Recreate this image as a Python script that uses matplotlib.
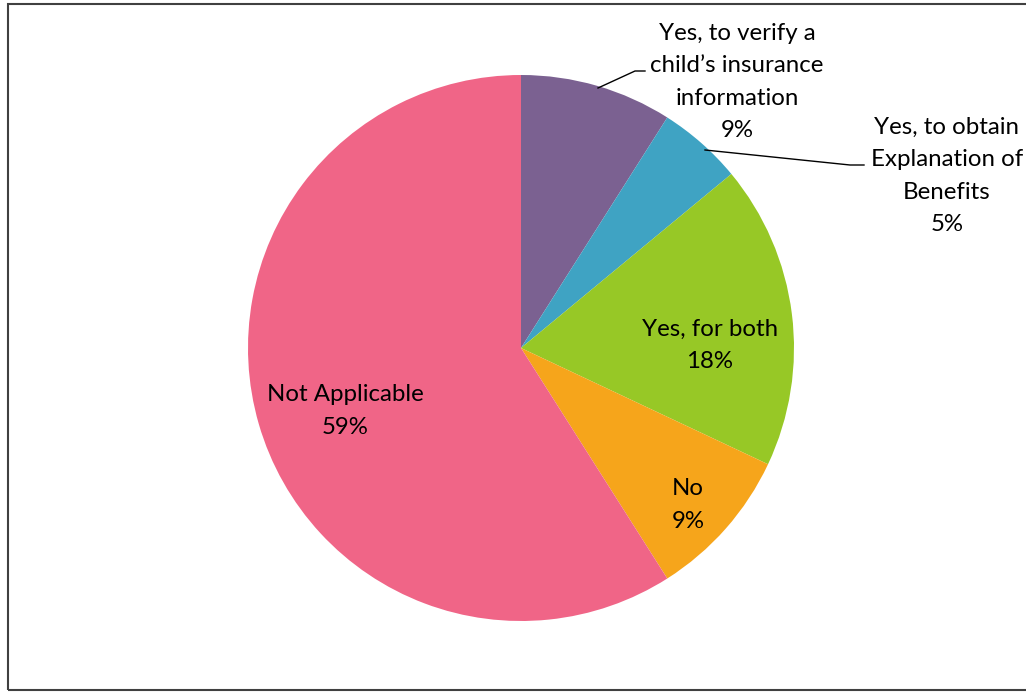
import matplotlib.pyplot as plt
from matplotlib.patches import Rectangle

labels = ["Yes, to verify a\nchild\u2019s insurance\ninformation",
          "Yes, to obtain\nExplanation of\nBenefits",
          "Yes, for both", "No", "Not Applicable"]
shares = [9, 5, 18, 9, 59]
colors = ["#7B6191", "#3FA3C3", "#97C826", "#F6A51B", "#F06587"]

W, H = 1026, 692
cx, cy, R = 521, H - 348, 273

fig = plt.figure(figsize=(W / 100, H / 100), dpi=100)
ax = fig.add_axes([0, 0, 1, 1])

ax.pie(shares, colors=colors, startangle=90, counterclock=False,
       center=(cx, cy), radius=R, frame=True,
       wedgeprops=dict(linewidth=0))
ax.set_aspect("equal")
ax.axis("off")
ax.set_xlim(0, W)
ax.set_ylim(0, H)

font = dict(family="Lato", fontsize=17.3, color="black", ha="center",
            va="center", linespacing=1.66)

# label positions (pixels from top-left)
pos = [(737, 82), (947, 176), (710, 345), (688, 505), (345, 411)]
for lab, val, (x, y) in zip(labels, shares, pos):
    ax.text(x, H - y, f"{lab}\n{val}%", **font)

# leader lines for the two outside labels
ax.plot([598, 635, 645], [H - 88, H - 71, H - 71], color="black", lw=1)
ax.plot([705, 850, 864], [H - 150, H - 165, H - 165], color="black", lw=1)

# chart border
fig.patches.append(Rectangle((7.5 / W, 2 / H), 1.2, (H - 6) / H,
                             transform=fig.transFigure, fill=False,
                             edgecolor="#404040", lw=1.5))

fig.savefig("out.png", dpi=100)
